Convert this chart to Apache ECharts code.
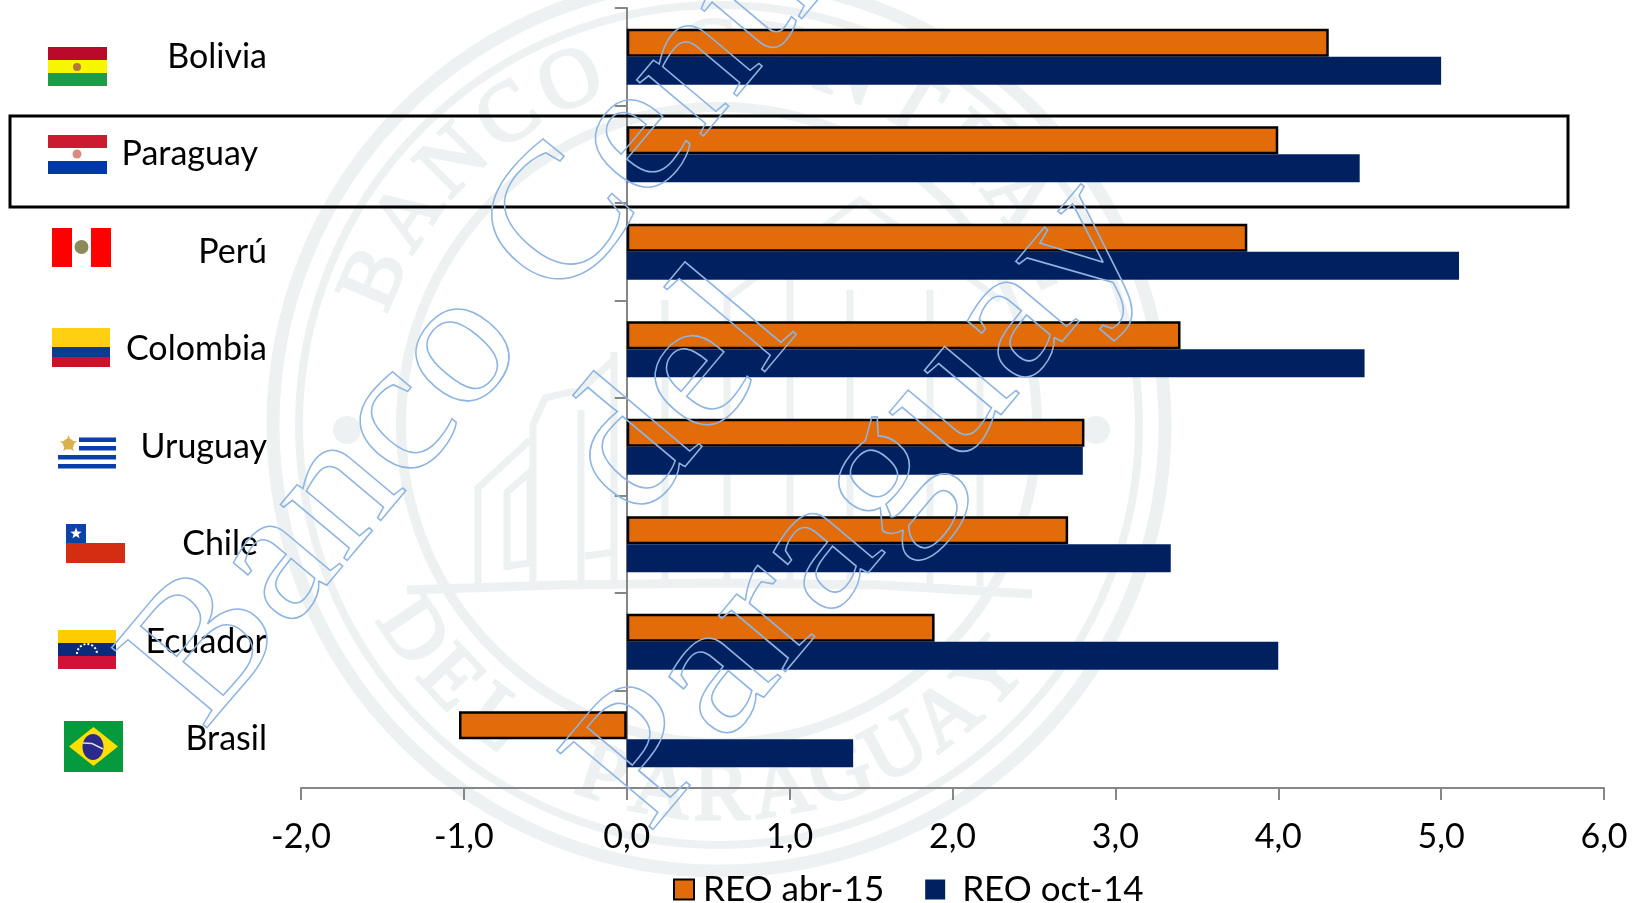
<!DOCTYPE html>
<html>
<head>
<meta charset="utf-8">
<title>REO</title>
<script src="https://cdn.jsdelivr.net/npm/echarts@6/dist/echarts.min.js"></script>
<style>
  html, body { margin: 0; padding: 0; background: #fff; }
  #chart { width: 1639px; height: 903px; }
</style>
</head>
<body>
<div id="chart"></div>
<script>
const countries = ['Bolivia', 'Paraguay', 'Perú', 'Colombia', 'Uruguay', 'Chile', 'Ecuador', 'Brasil'];
const reoAbr15 = [4.31, 4.0, 3.81, 3.4, 2.81, 2.71, 1.89, -1.03];
const reoOct14 = [5.0, 4.5, 5.11, 4.53, 2.8, 3.34, 4.0, 1.39];
const xTickLabels = ['-2,0', '-1,0', '0,0', '1,0', '2,0', '3,0', '4,0', '5,0', '6,0'];
const seriesNames = ['REO abr-15', 'REO oct-14'];
const sealTop = 'BANCO CENTRAL';
const sealBottom = 'DEL PARAGUAY';

const FONT = 'Lato, "Open Sans", sans-serif';
const SEAL = '#edf1f2';
const SEAL_X = 719, SEAL_Y = 425;

const chart = echarts.init(document.getElementById('chart'));

function rect(x, y, w, h, fill) {
    return { type: 'rect', shape: { x: x, y: y, width: w, height: h }, style: { fill: fill }, z: 5 };
}
function ring(r, width) {
    return {
        type: 'circle', shape: { cx: SEAL_X, cy: SEAL_Y, r: r }, silent: true, z: 0,
        style: { fill: 'none', stroke: SEAL, lineWidth: width }
    };
}
function line(points, width) {
    return {
        type: 'polyline', shape: { points: points }, silent: true, z: 0,
        style: { fill: 'none', stroke: SEAL, lineWidth: width || 7 }
    };
}
function star(cx, cy, r, fill) {
    const pts = [];
    for (let i = 0; i < 10; i++) {
        const a = -Math.PI / 2 + i * Math.PI / 5;
        const rr = i % 2 ? r * 0.42 : r;
        pts.push([cx + rr * Math.cos(a), cy + rr * Math.sin(a)]);
    }
    return { type: 'polygon', shape: { points: pts }, style: { fill: fill }, z: 6 };
}
// seal letters are placed one by one along the ring
function arcText(text, startDeg, stepDeg, r, bottom) {
    const out = [];
    for (let i = 0; i < text.length; i++) {
        if (text[i] === ' ') continue;
        const a = (startDeg + i * stepDeg) * Math.PI / 180;
        out.push({
            type: 'text', x: SEAL_X + r * Math.cos(a), y: SEAL_Y + r * Math.sin(a),
            rotation: bottom ? -(a - Math.PI / 2) : -(a + Math.PI / 2), silent: true, z: 0,
            style: {
                text: text[i], fill: SEAL, stroke: SEAL, lineWidth: 3, font: '84px "Liberation Serif"',
                align: 'center', verticalAlign: 'middle'
            }
        });
    }
    return out;
}
function hollow(text, x, y, sx) {
    return {
        type: 'text', x: x, y: y, rotation: 50 * Math.PI / 180, scaleX: sx, silent: true, z: 50,
        style: {
            text: text, font: '190px "Liberation Serif"', fill: 'transparent',
            stroke: '#8db4e2', lineWidth: 1.5, align: 'center', verticalAlign: 'middle'
        }
    };
}

const seal = [
    ring(446, 13), ring(420, 8), ring(318, 10),
    { type: 'circle', shape: { cx: 347, cy: 430, r: 14 }, style: { fill: SEAL }, silent: true, z: 0 },
    { type: 'circle', shape: { cx: 1096, cy: 430, r: 14 }, style: { fill: SEAL }, silent: true, z: 0 },
    // building
    line([[407, 590], [560, 585], [720, 583], [880, 585], [1032, 594]], 9),
    line([[478, 586], [478, 488], [530, 440]]),
    line([[507, 570], [507, 492], [530, 472], [530, 563], [507, 566]]),
    line([[533, 586], [533, 425], [545, 398], [570, 392], [578, 392], [616, 358]]),
    line([[581, 586], [581, 410]]),
    line([[585, 556], [614, 552]]),
    line([[614, 586], [614, 352]]),
    line([[665, 586], [665, 300]]),
    line([[727, 586], [727, 300]]),
    line([[790, 586], [790, 240]]),
    line([[850, 586], [850, 290]]),
    line([[725, 300], [860, 200], [1000, 300]]),
    line([[930, 586], [930, 290]]),
    line([[980, 586], [980, 320]])
].concat(arcText(sealTop, 203, 10.9, 372, false), arcText(sealBottom, 146, -9.4, 372, true));

const flags = [
    // Bolivia
    rect(48, 47, 59, 13, '#b90a2b'), rect(48, 60, 59, 13, '#f7f500'), rect(48, 73, 59, 13, '#1f9a47'),
    { type: 'circle', shape: { cx: 77, cy: 67, r: 4 }, style: { fill: '#b5763f' }, z: 6 },
    // Paraguay
    rect(48, 135, 59, 13, '#cc1a30'), rect(48, 148, 59, 13, '#ffffff'), rect(48, 161, 59, 13, '#0038a8'),
    { type: 'circle', shape: { cx: 77, cy: 154, r: 4.5 }, style: { fill: '#d98b80' }, z: 6 },
    // Perú
    rect(52, 228, 20, 39, '#ff0000'), rect(72, 228, 19, 39, '#ffffff'), rect(91, 228, 20, 39, '#ff0000'),
    { type: 'circle', shape: { cx: 81.5, cy: 247, r: 7 }, style: { fill: '#8a8a5a' }, z: 6 },
    // Colombia
    rect(52, 328, 58, 19, '#ffd012'), rect(52, 347, 58, 10, '#0a3d91'), rect(52, 357, 58, 10, '#ce1126'),
    // Uruguay
    rect(79, 437.5, 37, 4.5, '#0a3fa8'), rect(79, 446, 37, 4.5, '#0a3fa8'),
    rect(58, 455, 58, 4.5, '#0a3fa8'), rect(58, 464, 58, 4.5, '#0a3fa8'),
    star(68.5, 444, 9, '#d9b24a'),
    { type: 'circle', shape: { cx: 68.5, cy: 444, r: 5.5 }, style: { fill: '#d9b24a' }, z: 6 },
    // Chile
    rect(66, 524, 20, 19, '#0f3fa8'), rect(66, 543, 59, 20, '#d42e12'),
    star(76, 533.5, 6, '#ffffff'),
    // Ecuador
    rect(58, 630, 58, 13, '#ffcc00'), rect(58, 643, 58, 13, '#0b2a7a'), rect(58, 656, 58, 13, '#cf1235'),
    { type: 'arc', shape: { cx: 87, cy: 654, r: 10, startAngle: Math.PI, endAngle: 0 }, style: { fill: 'none', stroke: '#fff', lineWidth: 2, lineDash: [2, 2] }, z: 6 },
    // Brasil
    rect(64, 721, 59, 51, '#069a3f'),
    { type: 'polygon', shape: { points: [[69, 746.5], [93.5, 727], [118, 746.5], [93.5, 766]] }, style: { fill: '#fedf00' }, z: 6 },
    { type: 'ellipse', shape: { cx: 93, cy: 747, rx: 10.5, ry: 13 }, style: { fill: '#2b2a8c' }, z: 7 },
    { type: 'polyline', shape: { points: [[83, 743], [92, 743.5], [103, 749]] }, style: { fill: 'none', stroke: '#ddd', lineWidth: 1.5 }, z: 8 }
];

const option = {
    animation: false,
    backgroundColor: '#fff',
    textStyle: { fontFamily: FONT, color: '#000' },
    grid: { left: 301, right: 35, top: 8, bottom: 115, containLabel: false, outerBoundsMode: 'none' },
    xAxis: {
        type: 'value',
        min: -2,
        max: 6,
        interval: 1,
        splitLine: { show: false },
        axisLine: { show: true, lineStyle: { color: '#868686', width: 2 } },
        axisTick: { show: true, length: 12, lineStyle: { color: '#868686', width: 2 } },
        axisLabel: {
            fontFamily: FONT,
            fontSize: 34,
            color: '#000',
            margin: 32,
            showMinLabel: true,
            showMaxLabel: true,
            formatter: function (v) { return xTickLabels[Math.round(v) + 2]; }
        }
    },
    yAxis: {
        type: 'category',
        inverse: true,
        data: countries.map(function (c) {
            // Paraguay and Chile sit a little further from the axis
            return (c === 'Paraguay' || c === 'Chile')
                ? { value: c, textStyle: { padding: [3, 9, 0, 0] } }
                : c;
        }),
        axisLine: { show: true, onZero: true, lineStyle: { color: '#868686', width: 2 } },
        axisTick: { show: true, length: 12, lineStyle: { color: '#868686', width: 2 } },
        // labels are measured from the left edge of the grid, not from the zero line
        axisLabel: { fontFamily: FONT, fontSize: 34, color: '#000', margin: 34, interval: 0, padding: [3, 0, 0, 0] }
    },
    legend: {
        left: 673,
        top: 872,
        padding: 0,
        itemWidth: 20,
        itemHeight: 20,
        itemGap: 41,
        icon: 'rect',
        data: [
            { name: seriesNames[0], textStyle: { padding: [0, 0, 0, 4] } },
            { name: seriesNames[1], textStyle: { padding: [0, 0, 0, 12] } }
        ],
        textStyle: { fontFamily: FONT, fontSize: 35, color: '#000' }
    },
    series: [
        {
            name: seriesNames[0],
            type: 'bar',
            data: reoAbr15,
            barWidth: 28,
            barGap: 0,
            itemStyle: { color: '#e36c0a', borderColor: '#000', borderWidth: 2.5 }
        },
        {
            name: seriesNames[1],
            type: 'bar',
            data: reoOct14,
            barWidth: 28,
            barGap: 0,
            itemStyle: { color: '#002060' }
        }
    ],
    graphic: seal.concat(flags, [
        // box around Paraguay
        {
            type: 'rect', shape: { x: 10, y: 116, width: 1558, height: 91 }, silent: true, z: 40,
            style: { fill: 'none', stroke: '#000', lineWidth: 3 }
        },
        hollow('Banco Central', 530, 265, 1.04),
        hollow('del', 680, 395, 1.08),
        hollow('Paraguay', 860, 505, 1.1)
    ])
};

chart.setOption(option);
window.addEventListener('resize', function () { chart.resize(); });
</script>
</body>
</html>
